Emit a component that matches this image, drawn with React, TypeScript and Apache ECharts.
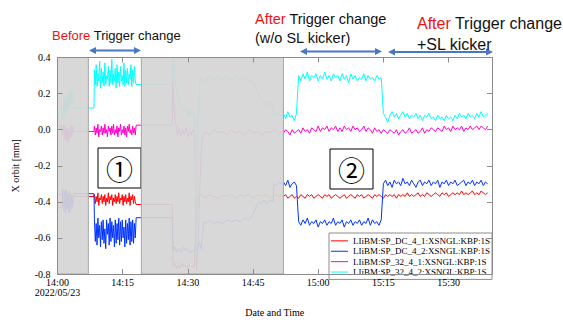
import React, { useEffect, useRef } from 'react';
import * as echarts from 'echarts';

// ---------- data ----------
const SERIES_NAMES = [
  'LIiBM:SP_DC_4_1:XSNGL:KBP:1S',
  'LIiBM:SP_DC_4_2:XSNGL:KBP:1S',
  'LIiBM:SP_32_4_1:XSNGL:KBP:1S',
  'LIiBM:SP_32_4_2:XSNGL:KBP:1S',
];
const SERIES_COLORS = ['#ff0000', '#0033ff', '#ff00cc', '#00ffff'];

// x values are minutes after 14:00 (2022/05/23)
const X_MIN = 0;
const X_MAX = 100;
const X_STEP = 15;
const Y_MIN = -0.8;
const Y_MAX = 0.4;
const Y_STEP = 0.2;
const DATE_LABEL = '2022/05/23';

// shaded (excluded) time spans, minutes
const GREY_SPANS = [
  [0, 7.1],
  [19.3, 52],
];

// window 1: evenly sampled readings between these times (minutes)
const WIN1 = [8.5, 17.9];
const red1 = [-0.36,-0.41,-0.37,-0.40,-0.35,-0.42,-0.38,-0.39,-0.36,-0.41,-0.37,-0.40,-0.36,-0.42,-0.38,-0.40,-0.35,-0.41,-0.37,-0.39,-0.36,-0.42,-0.38,-0.40,-0.36,-0.41,-0.37,-0.40,-0.35,-0.41,-0.38,-0.39,-0.36,-0.42,-0.37,-0.40,-0.36,-0.41,-0.38,-0.40,-0.35,-0.42,-0.37,-0.39,-0.36,-0.41,-0.37,-0.40];
const blue1 = [-0.50,-0.62,-0.52,-0.64,-0.49,-0.60,-0.53,-0.65,-0.51,-0.61,-0.50,-0.63,-0.55,-0.66,-0.50,-0.58,-0.52,-0.64,-0.49,-0.62,-0.51,-0.60,-0.53,-0.65,-0.50,-0.63,-0.52,-0.61,-0.49,-0.64,-0.51,-0.62,-0.50,-0.60,-0.54,-0.65,-0.50,-0.63,-0.52,-0.61,-0.49,-0.64,-0.51,-0.62,-0.50,-0.63,-0.52,-0.60];
const mag1 = [0.02,-0.03,0.01,-0.02,0.03,-0.04,0.00,-0.01,0.02,-0.03,0.01,-0.02,0.03,-0.02,0.00,-0.04,0.02,-0.01,0.01,-0.03,0.02,-0.02,0.03,-0.03,0.00,-0.02,0.02,-0.04,0.01,-0.01,0.03,-0.03,0.00,-0.02,0.02,-0.03,0.01,-0.04,0.02,-0.01,0.03,-0.02,0.00,-0.03,0.02,-0.02,0.01,-0.03];
const cyan1 = [0.33,0.25,0.36,0.24,0.31,0.27,0.38,0.23,0.34,0.26,0.32,0.24,0.37,0.25,0.30,0.28,0.35,0.24,0.33,0.26,0.39,0.25,0.31,0.27,0.34,0.23,0.36,0.26,0.32,0.24,0.35,0.27,0.30,0.25,0.37,0.24,0.33,0.26,0.34,0.25,0.31,0.28,0.36,0.24,0.33,0.26,0.35,0.27];

// window 2: evenly sampled readings between these times (minutes)
const WIN2 = [52, 99];
const red2 = [
  -0.37,-0.36,-0.38,-0.37,-0.36,-0.38,-0.37,-0.38,-0.36,-0.37,
  -0.38,-0.36,-0.37,-0.36,-0.38,-0.37,-0.36,-0.37,-0.38,-0.36,
  -0.37,-0.36,-0.38,-0.37,-0.36,-0.37,-0.38,-0.37,-0.36,-0.38,
  -0.37,-0.36,-0.37,-0.38,-0.36,-0.37,-0.36,-0.38,-0.37,-0.36,
  -0.37,-0.38,-0.36,-0.37,-0.36,-0.37,-0.38,-0.36,-0.37,-0.36,
  -0.37,-0.36,-0.38,-0.36,-0.37,-0.36,-0.37,-0.35,-0.37,-0.36,
  -0.37,-0.36,-0.35,-0.37,-0.36,-0.37,-0.35,-0.36,-0.37,-0.36,
  -0.35,-0.36,-0.37,-0.35,-0.36,-0.35,-0.37,-0.36,-0.35,-0.36,
  -0.35,-0.36,-0.34,-0.36,-0.35,-0.36,-0.35,-0.34,-0.36,-0.35,
  -0.36,-0.34,-0.35,-0.36,-0.35,
];
const blue2 = [
  -0.29,-0.31,-0.28,-0.32,-0.30,-0.29,-0.31,
  -0.51,-0.53,-0.50,-0.52,-0.49,-0.53,-0.51,-0.52,-0.50,-0.54,
  -0.51,-0.52,-0.50,-0.53,-0.51,-0.52,-0.49,-0.53,-0.51,-0.52,
  -0.50,-0.54,-0.51,-0.52,-0.50,-0.53,-0.51,-0.52,-0.50,-0.53,
  -0.51,-0.52,-0.49,-0.53,-0.50,-0.52,-0.51,-0.53,-0.50,
  -0.30,-0.28,-0.31,-0.29,-0.32,-0.28,-0.30,-0.29,-0.31,-0.27,
  -0.30,-0.29,-0.31,-0.28,-0.30,-0.32,-0.29,-0.28,-0.31,-0.29,
  -0.30,-0.28,-0.31,-0.29,-0.30,-0.28,-0.32,-0.29,-0.30,-0.28,
  -0.31,-0.29,-0.30,-0.28,-0.31,-0.30,-0.29,-0.28,-0.31,-0.29,
  -0.30,-0.28,-0.31,-0.29,-0.30,-0.28,-0.31,-0.29,-0.30,
];
const mag2 = [
  -0.02,0.00,-0.01,-0.03,0.00,-0.02,-0.01,0.00,-0.02,0.01,
  -0.01,0.00,-0.02,0.01,0.00,-0.01,0.02,-0.01,0.01,0.00,
  0.02,-0.01,0.01,0.00,0.02,-0.01,0.01,-0.01,0.02,0.00,
  0.01,-0.01,0.02,0.00,0.01,-0.01,0.00,0.02,-0.01,0.01,
  0.00,-0.02,0.01,-0.01,0.00,-0.02,0.00,-0.01,-0.02,0.00,
  -0.01,-0.02,0.00,-0.03,-0.01,0.00,-0.02,-0.01,0.01,-0.02,
  -0.01,0.00,-0.02,-0.01,0.01,-0.02,0.00,-0.01,0.01,0.00,
  -0.01,0.01,0.00,-0.01,0.02,0.00,0.01,-0.01,0.02,0.00,
  0.01,0.00,0.02,-0.01,0.01,0.00,0.02,0.00,0.01,0.02,
  0.00,0.02,0.01,0.00,0.02,
];
const cyan2 = [
  0.09,0.06,0.10,0.07,0.08,0.05,0.09,
  0.30,0.27,0.31,0.28,0.32,0.27,0.30,0.29,0.31,0.27,
  0.30,0.28,0.32,0.28,0.30,0.27,0.31,0.29,0.30,0.27,
  0.31,0.28,0.30,0.26,0.31,0.28,0.30,0.27,0.29,0.28,
  0.31,0.27,0.30,0.28,0.29,0.27,0.30,0.28,0.29,
  0.09,0.07,0.04,0.08,0.10,0.07,0.09,0.06,0.08,0.10,
  0.07,0.09,0.06,0.08,0.07,0.09,0.06,0.08,0.05,0.08,
  0.07,0.09,0.06,0.07,0.05,0.08,0.06,0.07,0.05,0.08,
  0.06,0.07,0.05,0.08,0.06,0.09,0.07,0.08,0.06,0.09,
  0.07,0.08,0.06,0.09,0.07,0.10,0.07,0.08,0.09,
];

// other readings [minute, mm]
const redPre = [[0,-0.43],[1.0,-0.43],[1.2,-0.36],[1.4,-0.44],[1.6,-0.35],[1.8,-0.45],[2.0,-0.34],[2.2,-0.44],[2.4,-0.36],[2.6,-0.46],[2.8,-0.35],[3.0,-0.43],[3.2,-0.37],[3.4,-0.42],[3.6,-0.38],[3.8,-0.37],[8.4,-0.37]];
const bluePre = [[0,-0.36],[1.0,-0.36],[1.2,-0.33],[1.4,-0.45],[1.6,-0.34],[1.8,-0.46],[2.0,-0.33],[2.2,-0.44],[2.4,-0.35],[2.6,-0.46],[2.8,-0.34],[3.0,-0.45],[3.2,-0.36],[3.4,-0.43],[3.6,-0.37],[3.8,-0.355],[8.4,-0.355]];
const magPre = [[0,0.02],[1.0,0.02],[1.2,-0.03],[1.4,0.03],[1.6,-0.05],[1.8,0.02],[2.0,-0.06],[2.2,0.01],[2.4,-0.07],[2.6,0.0],[2.8,-0.05],[3.0,0.03],[3.2,-0.04],[3.4,0.02],[3.6,-0.02],[3.8,-0.01],[8.4,-0.01]];
const cyanPre = [[0,0.12],[1.0,0.12],[1.2,0.06],[1.4,0.15],[1.6,0.08],[1.8,0.17],[2.0,0.1],[2.2,0.19],[2.4,0.11],[2.6,0.2],[2.8,0.13],[3.0,0.22],[3.2,0.14],[3.4,0.21],[3.6,0.15],[3.8,0.12],[8.4,0.12]];

const redMid = [[18.1,-0.415],[26.4,-0.415],[26.6,-0.76],[27,-0.74],[27.4,-0.77],[27.8,-0.75],[28.2,-0.77],[28.6,-0.74],[29,-0.76],[29.4,-0.75],[29.8,-0.77],[30.2,-0.74],[30.6,-0.76],[31.5,-0.76],[32.2,-0.37],[33,-0.36],[34,-0.38],[35,-0.36],[36,-0.37],[37,-0.38],[38,-0.36],[39,-0.37],[40,-0.36],[41,-0.38],[42,-0.36],[43,-0.37],[44,-0.36],[45,-0.38],[46,-0.36],[47,-0.37],[48,-0.36],[49,-0.38],[50,-0.36],[51,-0.37],[51.6,-0.37]];
const blueMid = [[18.1,-0.488],[26.4,-0.488],[26.6,-0.67],[27,-0.65],[27.5,-0.68],[28,-0.66],[28.5,-0.68],[29,-0.65],[29.5,-0.67],[30,-0.66],[30.5,-0.68],[31.5,-0.67],[31.8,-0.63],[32.2,-0.69],[32.6,-0.62],[33,-0.66],[33.3,-0.6],[33.6,-0.51],[34,-0.52],[35,-0.5],[36,-0.52],[37,-0.51],[38,-0.52],[39,-0.5],[40,-0.51],[41,-0.5],[42,-0.51],[43,-0.49],[44,-0.5],[44.5,-0.49],[45,-0.47],[45.5,-0.44],[46,-0.41],[46.5,-0.4],[47,-0.41],[47.5,-0.39],[48,-0.41],[48.5,-0.4],[49,-0.39],[49.6,-0.4],[49.8,-0.3],[50.5,-0.31],[51,-0.29],[51.6,-0.3]];
const magMid = [[18.1,0.025],[26.4,0.025],[26.5,0.3],[26.8,0.12],[27.2,0.03],[27.6,-0.03],[28,0.01],[28.4,-0.04],[28.8,0.0],[29.2,-0.03],[29.6,0.01],[30,-0.04],[30.4,-0.01],[30.8,-0.03],[31.2,0.0],[31.6,-0.02],[32.0,-0.78],[32.4,-0.62],[32.8,-0.3],[33.1,-0.1],[33.5,-0.04],[34,-0.01],[35,-0.03],[36,0.0],[37,-0.02],[38,-0.01],[39,-0.03],[40,0.0],[41,-0.02],[42,-0.01],[43,-0.03],[44,0.0],[45,-0.02],[46,-0.01],[47,-0.03],[48,-0.01],[49,-0.02],[50,0.0],[51,-0.02],[51.6,-0.01]];
const cyanMid = [[18.1,0.25],[26.4,0.25],[26.5,0.4],[26.8,0.33],[27.2,0.25],[27.6,0.2],[28,0.16],[28.4,0.14],[28.8,0.12],[29.2,0.1],[29.6,0.12],[30,0.08],[30.4,0.11],[30.8,0.08],[31.2,0.1],[31.6,0.09],[32.0,-0.7],[32.4,0.1],[32.7,0.26],[33,0.29],[34,0.26],[35,0.3],[36,0.27],[37,0.3],[38,0.28],[39,0.3],[40,0.27],[41,0.3],[42,0.28],[43,0.29],[44,0.27],[45,0.27],[45.5,0.24],[46,0.21],[46.5,0.18],[47,0.16],[47.5,0.15],[48,0.14],[48.5,0.15],[49,0.13],[49.6,0.14],[49.8,0.09],[50.5,0.08],[51.2,0.09],[51.6,0.07]];

// ---------- helpers ----------
const sampled = (win: number[], vals: number[]) =>
  vals.map((v, i) => [win[0] + (i * (win[1] - win[0])) / (vals.length - 1), v]);

const seriesData = [
  [...redPre, ...sampled(WIN1, red1), ...redMid, ...sampled(WIN2, red2)],
  [...bluePre, ...sampled(WIN1, blue1), ...blueMid, ...sampled(WIN2, blue2)],
  [...magPre, ...sampled(WIN1, mag1), ...magMid, ...sampled(WIN2, mag2)],
  [...cyanPre, ...sampled(WIN1, cyan1), ...cyanMid, ...sampled(WIN2, cyan2)],
];

const fmtTime = (v: number) => {
  if (v > X_MAX - 1) return '';
  const h = 14 + Math.floor(v / 60);
  const m = Math.round(v % 60);
  const s = `${h}:${String(m).padStart(2, '0')}`;
  return v === 0 ? `${s}\n${DATE_LABEL}` : s;
};

const SERIF = 'Liberation Serif';
const SANS = 'Liberation Sans';
const AXIS_GREY = '#8c8c8c';
const ARROW_BLUE = '#4a76c6';
const RED_TXT = '#ee1111';

const arrow = (x1: number, x2: number, y: number) => {
  const h = 7;
  const w = 3.5;
  return {
    type: 'group',
    z: 100,
    children: [
      { type: 'line', shape: { x1: x1 + h - 1, y1: y, x2: x2 - h + 1, y2: y }, style: { stroke: ARROW_BLUE, lineWidth: 2 } },
      { type: 'polygon', shape: { points: [[x1, y], [x1 + h, y - w], [x1 + h, y + w]] }, style: { fill: ARROW_BLUE } },
      { type: 'polygon', shape: { points: [[x2, y], [x2 - h, y - w], [x2 - h, y + w]] }, style: { fill: ARROW_BLUE } },
    ],
  };
};

const boxedNumber = (x: number, y: number, label: string) => ({
  type: 'group',
  z: 100,
  children: [
    { type: 'rect', shape: { x, y, width: 43, height: 40 }, style: { fill: '#fff', stroke: '#000', lineWidth: 1 } },
    {
      type: 'text',
      style: {
        text: label, x: x + 21.5, y: y + 20.5, align: 'center', verticalAlign: 'middle',
        fontSize: 27, fontFamily: 'Noto Sans CJK JP', fill: '#000',
      },
    },
  ],
});

const annText = (x: number, y: number, text: string, size: number) => ({
  type: 'text',
  z: 100,
  style: {
    text, x, y, align: 'left', verticalAlign: 'middle',
    fontSize: size, fontFamily: SANS, fill: '#111',
    rich: { r: { fill: RED_TXT, fontSize: size, fontFamily: SANS } },
  },
});

export default function App() {
  const ref = useRef<HTMLDivElement>(null);
  useEffect(() => {
    if (!ref.current) return;
    const chart = echarts.init(ref.current, null, { renderer: 'svg' });
    const tickStyle = { show: true, inside: true, length: 5, lineStyle: { color: AXIS_GREY } };
    const lineStyle = { show: true, onZero: false, lineStyle: { color: AXIS_GREY, width: 1 } };
    const option: any = {
      animation: false,
      backgroundColor: '#fff',
      grid: { left: 57.5, top: 57.5, right: 71, bottom: 42.5, containLabel: false },
      xAxis: [
        {
          type: 'value', min: X_MIN, max: X_MAX, interval: X_STEP, position: 'bottom', z: 12,
          axisLine: lineStyle, axisTick: tickStyle, splitLine: { show: false },
          axisLabel: { formatter: fmtTime, fontFamily: SERIF, fontSize: 10, color: '#000', margin: 3, lineHeight: 10.5, showMaxLabel: false },
          name: 'Date and Time', nameLocation: 'middle', nameGap: 33,
          nameTextStyle: { fontFamily: SERIF, fontSize: 10, color: '#000' },
        },
        {
          type: 'value', min: X_MIN, max: X_MAX, interval: X_STEP, position: 'top', z: 12,
          axisLine: lineStyle, axisTick: tickStyle, splitLine: { show: false }, axisLabel: { show: false },
        },
      ],
      yAxis: [
        {
          type: 'value', min: Y_MIN, max: Y_MAX, interval: Y_STEP, position: 'left', z: 12,
          axisLine: lineStyle, axisTick: tickStyle, splitLine: { show: false },
          axisLabel: { formatter: (v: number) => v.toFixed(1), fontFamily: SERIF, fontSize: 10, color: '#000', margin: 7 },
          name: 'X orbit [mm]', nameLocation: 'middle', nameGap: 37,
          nameTextStyle: { fontFamily: SERIF, fontSize: 10, color: '#000' },
        },
        {
          type: 'value', min: Y_MIN, max: Y_MAX, interval: Y_STEP, position: 'right', z: 12,
          axisLine: lineStyle, axisTick: tickStyle, splitLine: { show: false }, axisLabel: { show: false },
        },
      ],
      legend: {
        data: SERIES_NAMES,
        orient: 'vertical',
        left: 329,
        top: 233,
        icon: 'rect',
        itemWidth: 17,
        itemHeight: 1,
        itemGap: 0.7,
        itemTextGap: 3.4,
        padding: [3, 2, 2.5, 2],
        backgroundColor: '#fff',
        borderColor: AXIS_GREY,
        borderWidth: 1,
        selectedMode: false,
        textStyle: { fontFamily: SERIF, fontSize: 9, color: '#000', lineHeight: 9.7 },
      },
      series: [
        ...SERIES_NAMES.map((name, i) => ({
          name,
          type: 'line',
          xAxisIndex: 0,
          yAxisIndex: 0,
          data: seriesData[i],
          showSymbol: false,
          symbol: 'none',
          color: SERIES_COLORS[i],
          lineStyle: { width: 1, color: SERIES_COLORS[i] },
          z: 2,
          silent: true,
        })),
        {
          type: 'custom',
          name: 'excluded',
          xAxisIndex: 0,
          yAxisIndex: 0,
          z: 10,
          silent: true,
          data: GREY_SPANS,
          encode: { x: [0, 1] },
          renderItem: (_p: any, api: any) => {
            const p0 = api.coord([api.value(0), Y_MAX]);
            const p1 = api.coord([api.value(1), Y_MIN]);
            return {
              type: 'rect',
              shape: { x: p0[0], y: p0[1], width: p1[0] - p0[0], height: p1[1] - p0[1] },
              style: { fill: 'rgba(213,213,213,0.93)', stroke: '#a6a6a6', lineWidth: 1 },
            };
          },
        },
      ],
      graphic: [
        annText(52, 35, '{r|Before} Trigger change', 13),
        annText(255, 19, '{r|After} Trigger change', 14.5),
        annText(255, 38, '(w/o SL kicker)', 14.5),
        annText(417, 23.5, '{r|After} Trigger change', 16),
        annText(417, 44, '+SL kicker', 16),
        arrow(89, 141, 50.5),
        arrow(300, 382, 51.5),
        arrow(388, 493, 52),
        boxedNumber(98, 148, '①'),
        boxedNumber(330, 149, '②'),
      ],
    };
    chart.setOption(option);
    return () => chart.dispose();
  }, []);
  return <div ref={ref} style={{ position: 'fixed', left: 0, top: 0, width: 563, height: 322 }} />;
}
